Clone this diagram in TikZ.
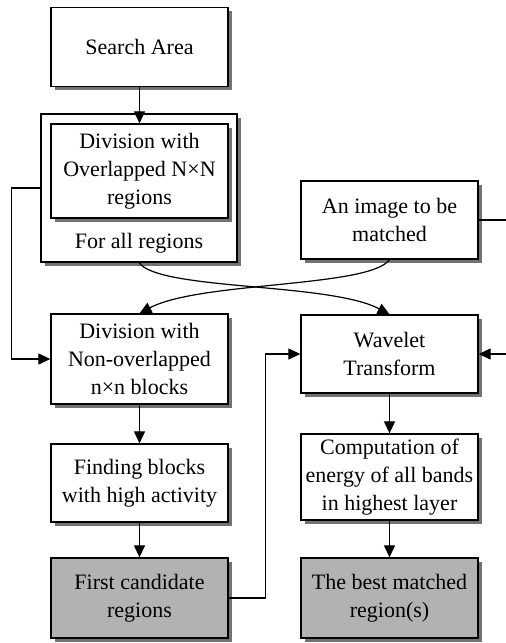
\documentclass[tikz,border=0pt]{standalone}
\usepackage{fontspec}
\setmainfont{Liberation Serif}
\usetikzlibrary{arrows.meta,shadows}

\begin{document}
\begin{tikzpicture}[
  x=0.5pt, y=-0.5pt,
  font=\fontsize{11}{14}\selectfont,
  box/.style={draw, line width=0.65pt, fill=white, align=center, inner sep=1pt,
    minimum width=88.5pt,
    drop shadow={shadow xshift=1.75pt, shadow yshift=-1.75pt, fill=black!55, opacity=1}},
  result/.style={box, fill=black!30},
  arrow/.style={-{Triangle[length=6pt,width=5.5pt]}, line width=0.6pt},
  link/.style={line width=0.6pt}
]
\useasboundingbox (0,0) rectangle (505,643);

% left column
\node[box, minimum height=39.5pt] (search) at (139.5,47) {Search Area};
\node[box, minimum width=98pt, minimum height=74pt] (outer) at (139,188) {};
\node[box, minimum height=47pt] (divo) at (139.5,171)
  {Division with\\Overlapped N×N\\regions};
\node (forall) at (139,243) {For all regions};
\node[box, minimum height=45pt] (divn) at (139.5,359)
  {Division with\\Non-overlapped\\n×n blocks};
\node[box, minimum height=39pt] (find) at (139.5,483)
  {Finding blocks\\with high activity};
\node[result, minimum height=40pt] (first) at (139.5,598)
  {First candidate\\regions};

% right column
\node[box, minimum height=39pt] (img) at (389.5,220) {An image to be\\matched};
\node[box, minimum height=39pt] (wave) at (389.5,354) {Wavelet\\Transform};
\node[box, minimum height=43pt] (comp) at (389.5,477)
  {Computation of\\energy of all bands\\in highest layer};
\node[result, minimum height=40pt] (best) at (389.5,598)
  {The best matched\\region(s)};

\draw[arrow] (search) -- (divo);
\draw[arrow] (divn) -- (find);
\draw[arrow] (find) -- (first);
\draw[arrow] (wave) -- (comp);
\draw[arrow] (comp) -- (best);

% crossing curves
\draw[arrow] (outer.south) .. controls +(20,28) and +(-60,-32) .. (wave.north);
\draw[arrow] (img.south) .. controls +(-20,28) and +(60,-32) .. (divn.north);

\draw[arrow] (outer.west) -- ++(-29,0) |- (divn.west);
\draw[arrow] (first.east) -- ++(37,0) |- (wave.west);
\draw[arrow] (img.east) -- ++(32,0) |- (wave.east);

\end{tikzpicture}
\end{document}
